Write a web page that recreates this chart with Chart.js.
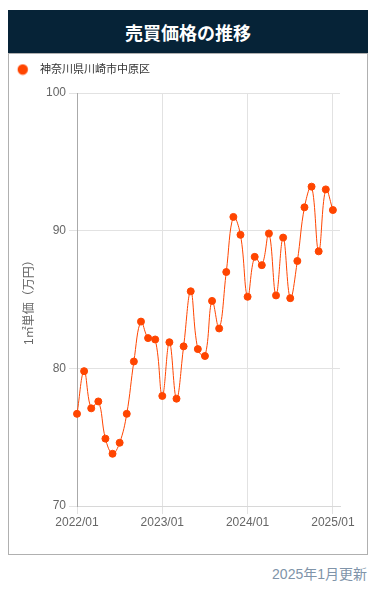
<!DOCTYPE html>
<html lang="ja">
<head>
<meta charset="utf-8">
<script src="https://cdn.jsdelivr.net/npm/chart.js@4.4.1/dist/chart.umd.min.js"></script>
<style>
  body { margin: 0; background: #fff; font-family: "Liberation Sans", Arial, "Noto Sans CJK JP", sans-serif; }
  .title {
    position: absolute; left: 8px; top: 10px; width: 360px; height: 43px;
    background: #062337; color: #fff; font-size: 18px; font-weight: bold;
    display: flex; align-items: center; justify-content: center;
  }
  .box {
    position: absolute; left: 8px; top: 53px; width: 360px; height: 502px;
    box-sizing: border-box; border: 1px solid #b0b0b0;
  }
  .note {
    position: absolute; right: 9px; top: 563px; font-size: 14px; color: #8094a9;
  }
</style>
</head>
<body>
<div class="title">売買価格の推移</div>
<div class="box"><canvas id="priceChart" width="358" height="500"></canvas></div>
<div class="note">2025年1月更新</div>
<script>
document.addEventListener("DOMContentLoaded", () => {
    // months on the x axis (last one is an empty slot past the data)
    const months = [
        '2022/01', '2022/02', '2022/03', '2022/04', '2022/05', '2022/06',
        '2022/07', '2022/08', '2022/09', '2022/10', '2022/11', '2022/12',
        '2023/01', '2023/02', '2023/03', '2023/04', '2023/05', '2023/06',
        '2023/07', '2023/08', '2023/09', '2023/10', '2023/11', '2023/12',
        '2024/01', '2024/02', '2024/03', '2024/04', '2024/05', '2024/06',
        '2024/07', '2024/08', '2024/09', '2024/10', '2024/11', '2024/12',
        '2025/01', '2025/02'
    ];
    const yearTicks = ['2022/01', '2023/01', '2024/01', '2025/01'];

    // 1m2 unit price (10k yen)
    const nakaharaPrices = [
        76.7, 79.8, 77.1, 77.6, 74.9, 73.8, 74.6, 76.7, 80.5, 83.4, 82.2, 82.1,
        78.0, 81.9, 77.8, 81.6, 85.6, 81.4, 80.9, 84.9, 82.9, 87.0, 91.0, 89.7,
        85.2, 88.1, 87.5, 89.8, 85.3, 89.5, 85.1, 87.8, 91.7, 93.2, 88.5, 93.0,
        91.5
    ];
    const yTicks = { min: 70, max: 100, step: 10 };

    const font = "'Liberation Sans', Arial, 'Noto Sans CJK JP', sans-serif";
    const lineColor = '#ff4500';

    // small dot used as legend marker
    const dot = document.createElement('canvas');
    dot.width = 24;
    dot.height = 12;
    const dctx = dot.getContext('2d');
    dctx.fillStyle = lineColor;
    dctx.beginPath();
    dctx.arc(8, 6, 5.2, 0, Math.PI * 2);
    dctx.fill();

    // extra room between legend and plot
    const legendGap = {
        id: 'legendGap',
        beforeLayout(chart) {
            const lg = chart.legend;
            if (!lg || lg._gapPatched) return;
            const fit = lg.fit;
            lg.fit = function () {
                fit.call(this);
                this.height += 8;
            };
            lg._gapPatched = true;
        }
    };

    const ctx = document.getElementById("priceChart").getContext("2d");
    new Chart(ctx, {
        type: 'line',
        data: {
            labels: months,
            datasets: [{
                label: '神奈川県川崎市中原区',
                data: nakaharaPrices,
                borderColor: lineColor,
                backgroundColor: lineColor,
                borderWidth: 1,
                pointRadius: 3.5,
                pointHoverRadius: 4,
                tension: 0.4,
                fill: false
            }]
        },
        options: {
            responsive: false,
            animation: false,
            layout: { padding: { left: 0, right: 27, top: 0, bottom: 23.5 } },
            plugins: {
                legend: {
                    position: 'top',
                    align: 'start',
                    labels: {
                        usePointStyle: true,
                        pointStyle: dot,
                        pointStyleWidth: 15.5,
                        color: '#333',
                        padding: 10,
                        font: { family: font, size: 11 }
                    }
                },
                tooltip: { enabled: false }
            },
            scales: {
                x: {
                    grid: { color: '#e2e2e2' },
                    border: { color: '#d8d8d8' },
                    ticks: {
                        autoSkip: false,
                        maxRotation: 0,
                        padding: 1,
                        color: '#666',
                        font: { family: font, size: 12 },
                        callback: function (value) {
                            const lbl = this.getLabelForValue(value);
                            return yearTicks.includes(lbl) ? lbl : null;
                        }
                    }
                },
                y: {
                    min: yTicks.min,
                    max: yTicks.max,
                    grid: { color: '#e2e2e2' },
                    border: { color: '#aaa' },
                    ticks: {
                        stepSize: yTicks.step,
                        color: '#666',
                        font: { family: font, size: 12 }
                    },
                    title: {
                        display: true,
                        text: '1㎡単価（万円）',
                        color: '#666',
                        padding: { top: 13, bottom: 0 },
                        font: { family: font, size: 12 }
                    },
                    afterFit: (axis) => { axis.width = 68; }
                }
            }
        },
        plugins: [legendGap]
    });
});
</script>
</body>
</html>
